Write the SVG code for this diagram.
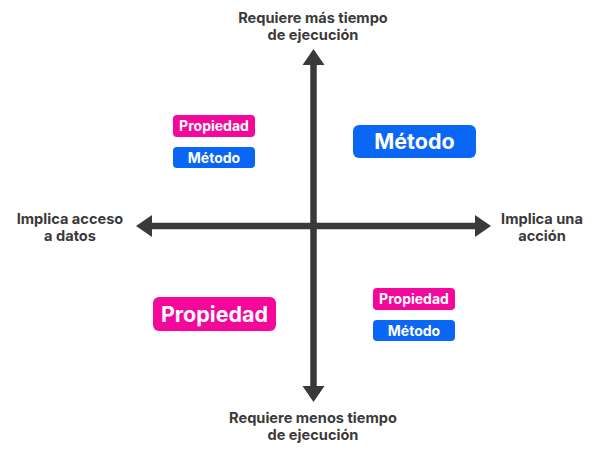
<svg xmlns="http://www.w3.org/2000/svg" width="600" height="454" viewBox="0 0 600 454">
<style>
.lbl{font-family:Inter,Roboto,"Liberation Sans",sans-serif;font-weight:700;font-size:14.6px;fill:#3a3a3a;text-anchor:middle}
.tag{font-family:Inter,Roboto,"Liberation Sans",sans-serif;font-weight:700;fill:#fff;text-anchor:middle}
.s{font-size:14px}
.b{font-size:21.5px}
.pink{fill:#f5079b}
.blue{fill:#0a66f5}
.axis{stroke:#3a3a3a;stroke-width:6.5;fill:none}
.head{fill:#3a3a3a}
</style>
<rect width="600" height="454" fill="#fff"/>
<g id="axes">
<line class="axis" x1="313.5" y1="62" x2="313.5" y2="388"/>
<line class="axis" x1="150" y1="226" x2="478" y2="226"/>
<polygon class="head" points="313.5,49 302.5,65 324.5,65"/>
<polygon class="head" points="313.5,402 302.5,386 324.5,386"/>
<polygon class="head" points="136,226 152,215 152,237"/>
<polygon class="head" points="491,226 475,215 475,237"/>
</g>
<g id="label-top"><text class="lbl" x="313" y="23">Requiere más tiempo</text><text class="lbl" x="313" y="40">de ejecución</text></g>
<g id="label-bottom"><text class="lbl" x="313" y="423">Requiere menos tiempo</text><text class="lbl" x="313" y="440">de ejecución</text></g>
<g id="label-left"><text class="lbl" x="70" y="224">Implica acceso</text><text class="lbl" x="70" y="241">a datos</text></g>
<g id="label-right"><text class="lbl" x="542" y="224">Implica una</text><text class="lbl" x="542" y="241">acción</text></g>
<g id="tl-propiedad"><rect class="pink" x="173" y="115" width="82" height="22" rx="4"/><text class="tag s" x="214" y="131">Propiedad</text></g>
<g id="tl-metodo"><rect class="blue" x="173" y="147" width="82" height="21" rx="4"/><text class="tag s" x="214" y="162.5">Método</text></g>
<g id="tr-metodo"><rect class="blue" x="353" y="125" width="123" height="33" rx="6"/><text class="tag b" x="414.5" y="149">Método</text></g>
<g id="bl-propiedad"><rect class="pink" x="153" y="297" width="123" height="34" rx="6"/><text class="tag b" x="214.5" y="321.5">Propiedad</text></g>
<g id="br-propiedad"><rect class="pink" x="373" y="288" width="82" height="22" rx="4"/><text class="tag s" x="414" y="304">Propiedad</text></g>
<g id="br-metodo"><rect class="blue" x="373" y="320" width="82" height="21" rx="4"/><text class="tag s" x="414" y="335.5">Método</text></g>
</svg>
